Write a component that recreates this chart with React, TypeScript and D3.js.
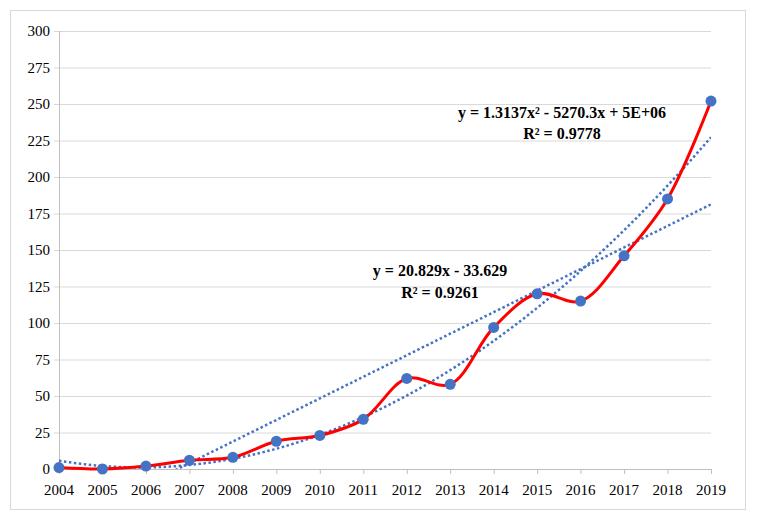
import React from "react";
import * as d3 from "d3";

const years = [2004, 2005, 2006, 2007, 2008, 2009, 2010, 2011, 2012, 2013, 2014, 2015, 2016, 2017, 2018, 2019];
const values = [1, 0, 2, 6, 8, 19, 23, 34, 62, 58, 97, 120, 115, 146, 185, 252];
const yTicks = [0, 25, 50, 75, 100, 125, 150, 175, 200, 225, 250, 275, 300];
const linearLabel = ["y = 20.829x - 33.629", "R² = 0.9261"];
const polyLabel = ["y = 1.3137x² - 5270.3x + 5E+06", "R² = 0.9778"];

// least-squares polynomial fit (trendlines derived from the data)
function polyFit(xs: number[], ys: number[], deg: number): number[] {
  const n = deg + 1;
  const A: number[][] = [];
  for (let i = 0; i < n; i++) {
    A.push([]);
    for (let j = 0; j < n; j++) A[i].push(d3.sum(xs, (x) => Math.pow(x, i + j)));
    A[i].push(d3.sum(xs, (x, k) => Math.pow(x, i) * ys[k]));
  }
  for (let c = 0; c < n; c++) {
    for (let r = c + 1; r < n; r++) {
      const f = A[r][c] / A[c][c];
      for (let k = c; k <= n; k++) A[r][k] -= f * A[c][k];
    }
  }
  const coef = new Array(n).fill(0);
  for (let r = n - 1; r >= 0; r--) {
    let s = A[r][n];
    for (let k = r + 1; k < n; k++) s -= A[r][k] * coef[k];
    coef[r] = s / A[r][r];
  }
  return coef;
}

export default function App() {
  const W = 757, H = 519;
  const left = 59, right = 711, top = 31, bottom = 469;
  const x = d3.scaleLinear().domain([2004, 2019]).range([left, right]);
  const y = d3.scaleLinear().domain([0, 300]).range([bottom, top]);

  const xs = years.map((yr) => yr - 2004);
  const lin = polyFit(xs, values, 1);
  const quad = polyFit(xs, values, 2);
  const samples = d3.range(0, 15.001, 0.05);
  const evalP = (c: number[], t: number) => c.reduce((s, v, i) => s + v * Math.pow(t, i), 0);
  const trend = (c: number[]) =>
    d3.line<number>().x((t) => x(2004 + t)).y((t) => y(evalP(c, t)))(samples) || "";

  const redLine = d3
    .line<number>()
    .x((_, i) => x(years[i]))
    .y((v) => y(v))
    .curve(d3.curveCatmullRom.alpha(0.5))(values) || "";

  const font = '"Times New Roman", Times, Tinos, "Liberation Serif", "DejaVu Serif", "Noto Serif", serif';
  const blue = "#4472c4";

  return (
    <svg width={W} height={H} style={{ position: "absolute", left: 0, top: 0, fontFamily: font }}>
      <defs>
        <clipPath id="plot">
          <rect x={left} y={top} width={right - left} height={bottom - top} />
        </clipPath>
      </defs>
      <rect x={10.5} y={10.5} width={735} height={499} fill="#fff" stroke="#d9d9d9" strokeWidth={1} />
      {yTicks.map((t) => (
        <g key={t}>
          <line x1={left - 5} x2={right} y1={y(t) + 0.5} y2={y(t) + 0.5} stroke={t === 0 ? "#bfbfbf" : "#d9d9d9"} strokeWidth={1} />
          <text x={left - 9} y={y(t)} dy="0.35em" textAnchor="end" fontSize={15} fill="#000" style={{ fontFamily: font }}>
            {t}
          </text>
        </g>
      ))}
      <line x1={left + 0.5} x2={left + 0.5} y1={top} y2={bottom} stroke="#bfbfbf" strokeWidth={1} />
      {years.map((yr) => (
        <g key={yr}>
          <line x1={x(yr) + 0.5} x2={x(yr) + 0.5} y1={bottom} y2={bottom + 5} stroke="#bfbfbf" strokeWidth={1} />
          <text x={x(yr)} y={bottom + 26} textAnchor="middle" fontSize={15} fill="#000" style={{ fontFamily: font }}>
            {yr}
          </text>
        </g>
      ))}
      <g clipPath="url(#plot)">
        <path d={trend(lin)} fill="none" stroke={blue} strokeWidth={2.5} strokeDasharray="2.5 2.5" />
        <path d={trend(quad)} fill="none" stroke={blue} strokeWidth={2.5} strokeDasharray="2.5 2.5" />
      </g>
      <path d={redLine} fill="none" stroke="#ff0000" strokeWidth={3} strokeLinejoin="round" />
      {values.map((v, i) => (
        <circle key={i} cx={x(years[i])} cy={y(v)} r={5.5} fill={blue} />
      ))}
      <g fontWeight="bold" fontSize={16} textAnchor="middle" fill="#000" style={{ fontFamily: font }}>
        <text x={440} y={270} dy="0.35em">{linearLabel[0]}</text>
        <text x={440} y={292} dy="0.35em">{linearLabel[1]}</text>
        <text x={562} y={112} dy="0.35em">{polyLabel[0]}</text>
        <text x={562} y={133} dy="0.35em">{polyLabel[1]}</text>
      </g>
    </svg>
  );
}
